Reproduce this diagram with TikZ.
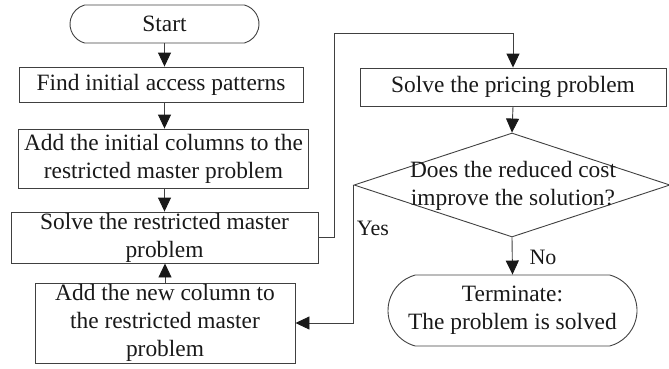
\documentclass[tikz,border=0pt]{standalone}
\usepackage{fontspec}
\setmainfont{Liberation Serif}
\usetikzlibrary{arrows.meta,shapes.geometric,shapes.misc}
\begin{document}
\begin{tikzpicture}[x=1pt,y=-1pt,
  every node/.style={font=\fontsize{23.4}{28}\selectfont, text=black!90},
  line/.style={draw=black!75, line width=0.9pt},
  arr/.style={line, -{Triangle[width=13pt,length=14pt,color=black!90]}},
  procbox/.style={draw=black!75, line width=0.9pt, rectangle, inner sep=0pt, align=center},
  termbox/.style={draw=black!75, line width=0.9pt, rounded rectangle,
    rounded rectangle arc length=150, inner sep=0pt, align=center},
  decbox/.style={draw=black!75, line width=0.9pt, diamond, inner sep=0pt},
  lbl/.style={font=\fontsize{22}{26}\selectfont}
]
\useasboundingbox (0,0) rectangle (669,368);

% left column
\node[termbox, minimum width=189pt, minimum height=38pt] (start) at (164.5,24) {Start};
\node[procbox, minimum width=284pt, minimum height=35pt] (find) at (161,84.5) {Find initial access patterns};
\node[procbox, minimum width=290pt, minimum height=59pt] (addinit) at (163.5,158.5)
  {Add the initial columns to the\\restricted master problem};
\node[procbox, minimum width=307pt, minimum height=51pt] (solve) at (164.5,237.5)
  {Solve the restricted master\\problem};
\node[procbox, minimum width=260pt, minimum height=80pt] (addnew) at (165,323)
  {Add the new column to\\the restricted master\\problem};

% right column
\node[procbox, minimum width=306pt, minimum height=38pt] (pricing) at (513,87) {Solve the pricing problem};
\node[decbox, minimum width=316pt, minimum height=104pt] (dec) at (512,185) {};
\node[align=center] (dectext) at (513,186) {Does the reduced cost\\improve the solution?};
\node[termbox, minimum width=249pt, minimum height=71pt] (term) at (512.5,310.5)
  {Terminate:\\The problem is solved};

% connectors
\coordinate (looptop) at (334,33);
\draw[arr] (start.south) -- (start.south |- find.north);
\draw[arr] (start.south |- find.south) -- (start.south |- addinit.north);
\draw[arr] (start.south |- addinit.south) -- (start.south |- solve.north);
\draw[arr] (addnew.north) -- (addnew.north |- solve.south);
\draw[arr] (solve.east) -| (looptop) -| (pricing.north);
\draw[arr] (pricing.south) -- (dec.north);
\draw[arr] (dec.west) |- (addnew.east);
\draw[arr] (dec.south) -- (term.north);

% branch labels
\node[lbl] (yes) at (373,228) {Yes};
\node[lbl] (no) at (543,257) {No};
\end{tikzpicture}
\end{document}
